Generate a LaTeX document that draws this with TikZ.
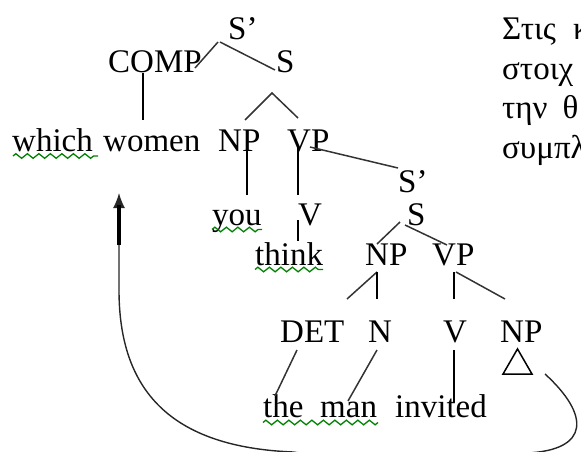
\documentclass[tikz,border=0pt]{standalone}
\usepackage{fontspec}
\setmainfont{Liberation Serif}
\usetikzlibrary{calc,arrows.meta,shapes.geometric,decorations.pathmorphing}
\definecolor{squig}{RGB}{0,128,0}
\tikzset{
  lbl/.style={font=\fontsize{33}{40}\selectfont, inner sep=0pt, anchor=base west, text=black},
  br/.style={line width=1.5pt, black!80},
  vbr/.style={line width=2pt, black},
  wavy/.style={draw=squig, line width=1.3pt, decorate, decoration={zigzag, segment length=11.5pt, amplitude=2.3pt}},
  conn/.style={line width=1.4pt, black!85},
}
\begin{document}
\begin{tikzpicture}[x=1pt,y=-1pt]
\useasboundingbox (0,0) rectangle (581,452);
\clip (0,0) rectangle (581,452);
% tree labels
\node[lbl] (Sp1) at (228,40) {S’};
\node[lbl] (COMP) at (108,73) {COMP};
\node[lbl] (S1) at (276,73) {S};
\node[lbl] (which) at (12,151) {which};
\node[lbl] (women) at (103,151) {women};
\node[lbl] (NP1) at (218,151) {NP};
\node[lbl] (VP1) at (287,151) {VP};
\node[lbl] (Sp2) at (398,192) {S’};
\node[lbl] (you) at (212,225) {you};
\node[lbl] (V1) at (298,225) {V};
\node[lbl] (think) at (255,265) {think};
\node[lbl] (S2) at (407,225) {S};
\node[lbl] (NP2) at (365,265) {NP};
\node[lbl] (VP2) at (432,265) {VP};
\node[lbl] (DET) at (280,342) {DET};
\node[lbl] (N) at (368,342) {N};
\node[lbl] (V2) at (443,342) {V};
\node[lbl] (NP3) at (500,342) {NP};
\node[lbl] (the) at (263,417) {the};
\node[lbl] (man) at (320,417) {man};
\node[lbl] (invited) at (395,417) {invited};
\node[draw, line width=1.5pt, regular polygon, regular polygon sides=3, minimum size=33.5pt, inner sep=0pt] (tri) at (517.5,365.7) {};
% Greek text (cut by the frame)
\node[lbl] (g1) at (502,40) {Στις\hspace{17pt}κ};
\node[lbl] (g2) at (502,80) {στοιχ};
\node[lbl] (g3) at (502,118) {την\hspace{15pt}θ};
\node[lbl] (g4) at (502,158) {συμπλ};
% branches
\draw[br] ($(Sp1.base west)+(-10,2)$) -- ($(COMP.base west)+(87,-5)$);
\draw[br] ($(Sp1.base west)+(-8,2)$) -- ($(S1.base west)+(-1,-3)$);
\draw[vbr] ($(COMP.base west)+(35,0)$) -- ($(women.base west)+(40,-31)$);
\draw[br] ($(NP1.base west)+(27,-31)$) -- ($(S1.base west)+(-4,20)$) -- ($(VP1.base west)+(11,-33)$);
\draw[vbr] ($(NP1.base west)+(29,0)$) -- ($(you.base west)+(35,-30)$);
\draw[vbr] ($(VP1.base west)+(11,-4)$) -- ($(V1.base west)+(0,-30)$);
\draw[vbr] ($(V1.base west)+(0,-5)$) -- ($(think.base west)+(43,-24)$);
\draw[br] ($(VP1.base west)+(23,-4)$) -- ($(Sp2.base west)+(0,-24)$);
\draw[br] ($(S2.base west)+(-7,-3)$) -- ($(NP2.base west)+(12,-21)$);
\draw[br] ($(S2.base west)+(-2,0)$) -- ($(VP2.base west)+(15,-20)$);
\draw[br] ($(NP2.base west)+(12,7)$) -- ($(DET.base west)+(67,-43)$);
\draw[vbr] ($(NP2.base west)+(12,7)$) -- ($(N.base west)+(9,-43)$);
\draw[vbr] ($(VP2.base west)+(22,7)$) -- ($(V2.base west)+(11,-43)$);
\draw[br] ($(VP2.base west)+(24,7)$) -- ($(NP3.base west)+(5,-43)$);
\draw[br] ($(DET.base west)+(17,8)$) -- ($(the.base west)+(12,-21)$);
\draw[br] ($(N.base west)+(9,8)$) -- ($(man.base west)+(28,-16)$);
\draw[vbr] ($(V2.base west)+(11,8)$) -- ($(invited.base west)+(59,-15)$);
% spell-check underlines
\draw[wavy] ($(which.base west)+(1,5)$) -- ($(which.base west)+(86,5)$);
\draw[wavy] ($(you.base west)+(0,4.5)$) -- ($(you.base west)+(50,4.5)$);
\draw[wavy] ($(think.base west)+(0,4.5)$) -- ($(think.base west)+(68,4.5)$);
\draw[wavy] ($(the.base west)+(0,5.5)$) -- ($(the.base west)+(115,5.5)$);
% movement arrow
\coordinate (arrS) at (545,374);
\coordinate (arrE) at (119,193);
\draw[conn, -{Latex[length=15pt,width=12pt]}] (arrS) .. controls (590,415) and (590,450) .. (527,453)
  .. controls (450,464) and (370,464) .. (293,452)
  .. controls (170,447) and (119,390) .. (119,290) -- (arrE);
\draw[line width=3.5pt, black] ($(arrE)+(0,52)$) -- ($(arrE)+(0,12)$);
\end{tikzpicture}
\end{document}
